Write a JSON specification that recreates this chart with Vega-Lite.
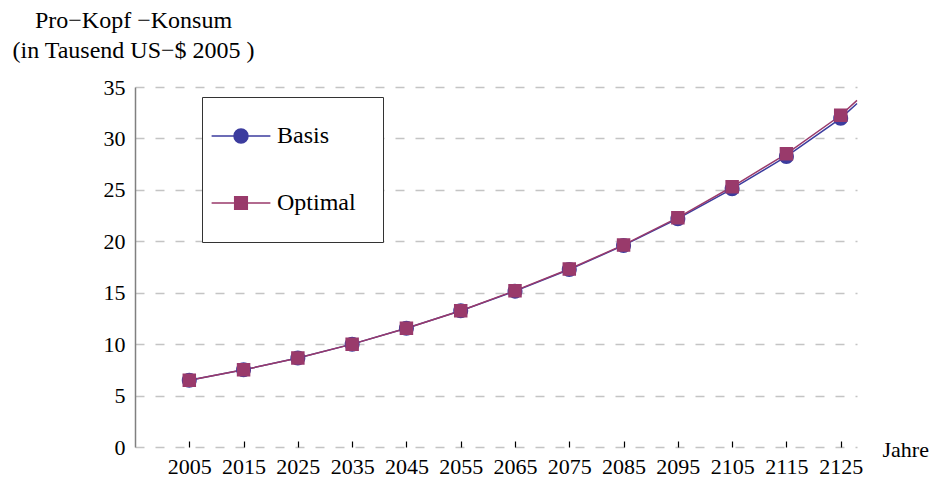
{
  "$schema": "https://vega.github.io/schema/vega-lite/v6.json",
  "width": 722,
  "height": 360,
  "autosize": {"type": "none"},
  "padding": {"left": 135, "top": 87, "right": 75, "bottom": 35},
  "background": "white",
  "config": {
    "view": {"stroke": null},
    "font": "Liberation Serif",
    "axis": {"labelFont": "Liberation Serif", "titleFont": "Liberation Serif", "labelColor": "#000", "titleColor": "#000", "labelFontSize": 22, "titleFontSize": 22, "titleFontWeight": "normal"},
    "legend": {"labelFont": "Liberation Serif", "labelFontSize": 24, "labelColor": "#000"}
  },
  "data": {
    "values": [
      {"year": 2005, "series": "Basis", "value": 6.5, "m": true},
      {"year": 2015, "series": "Basis", "value": 7.5, "m": true},
      {"year": 2025, "series": "Basis", "value": 8.65, "m": true},
      {"year": 2035, "series": "Basis", "value": 10.0, "m": true},
      {"year": 2045, "series": "Basis", "value": 11.55, "m": true},
      {"year": 2055, "series": "Basis", "value": 13.25, "m": true},
      {"year": 2065, "series": "Basis", "value": 15.15, "m": true},
      {"year": 2075, "series": "Basis", "value": 17.25, "m": true},
      {"year": 2085, "series": "Basis", "value": 19.6, "m": true},
      {"year": 2095, "series": "Basis", "value": 22.2, "m": true},
      {"year": 2105, "series": "Basis", "value": 25.1, "m": true},
      {"year": 2115, "series": "Basis", "value": 28.25, "m": true},
      {"year": 2125, "series": "Basis", "value": 31.95, "m": true},
      {"year": 2128, "series": "Basis", "value": 33.4, "m": false},
      {"year": 2005, "series": "Optimal", "value": 6.5, "m": true},
      {"year": 2015, "series": "Optimal", "value": 7.5, "m": true},
      {"year": 2025, "series": "Optimal", "value": 8.65, "m": true},
      {"year": 2035, "series": "Optimal", "value": 10.0, "m": true},
      {"year": 2045, "series": "Optimal", "value": 11.55, "m": true},
      {"year": 2055, "series": "Optimal", "value": 13.25, "m": true},
      {"year": 2065, "series": "Optimal", "value": 15.2, "m": true},
      {"year": 2075, "series": "Optimal", "value": 17.3, "m": true},
      {"year": 2085, "series": "Optimal", "value": 19.65, "m": true},
      {"year": 2095, "series": "Optimal", "value": 22.3, "m": true},
      {"year": 2105, "series": "Optimal", "value": 25.3, "m": true},
      {"year": 2115, "series": "Optimal", "value": 28.5, "m": true},
      {"year": 2125, "series": "Optimal", "value": 32.25, "m": true},
      {"year": 2128, "series": "Optimal", "value": 33.7, "m": false}
    ]
  },
  "encoding": {
    "x": {
      "field": "year", "type": "quantitative",
      "scale": {"domain": [1995, 2128], "nice": false, "zero": false},
      "axis": {
        "values": [2005, 2015, 2025, 2035, 2045, 2055, 2065, 2075, 2085, 2095, 2105, 2115, 2125],
        "format": "d", "grid": false, "domain": false,
        "ticks": true, "tickSize": -6, "tickColor": "#000", "tickWidth": 1.2,
        "labelPadding": 15, "labelFlush": false, "labelOverlap": false,
        "title": "Jahre", "titleX": 747, "titleY": 2, "titleAlign": "left", "titleBaseline": "middle", "titleAnchor": null
      }
    },
    "y": {
      "field": "value", "type": "quantitative",
      "scale": {"domain": [0, 35], "nice": false},
      "axis": {
        "values": [0, 5, 10, 15, 20, 25, 30, 35],
        "grid": true, "gridColor": "#c4c4c4", "gridDash": [9, 11], "gridWidth": 1.5,
        "domain": true, "domainColor": "#808080", "domainWidth": 1.5,
        "ticks": false, "labelPadding": 10,
        "title": ["Pro−Kopf −Konsum", "(in Tausend US−$ 2005 )"],
        "titleFontSize": 24,
        "titleAngle": 0, "titleX": -2, "titleY": -79, "titleAlign": "center", "titleBaseline": "top", "titleLineHeight": 30
      }
    }
  },
  "layer": [
    {
      "mark": {"type": "line", "strokeWidth": 1.5},
      "encoding": {
        "stroke": {
          "field": "series", "type": "nominal",
          "scale": {"domain": ["Basis", "Optimal"], "range": ["#3c3c9e", "#993a6b"]},
          "legend": {
            "title": null, "orient": "none", "legendX": 67, "legendY": 10,
            "padding": 27, "symbolOffset": 0, "labelOffset": 24, "rowPadding": 43,
            "symbolSize": 196, "symbolStrokeWidth": 1.5,
            "strokeColor": "#333", "fillColor": "white"
          }
        }
      }
    },
    {
      "transform": [{"filter": "datum.m"}],
      "mark": {"type": "point", "filled": true, "size": 225, "opacity": 1, "strokeWidth": 0},
      "encoding": {
        "stroke": {"field": "series", "type": "nominal"},
        "fill": {
          "field": "series", "type": "nominal",
          "scale": {"domain": ["Basis", "Optimal"], "range": ["#3c3c9e", "#993a6b"]},
          "legend": {
            "title": null, "orient": "none", "legendX": 67, "legendY": 10,
            "padding": 27, "symbolOffset": 0, "labelOffset": 24, "rowPadding": 43,
            "symbolSize": 196, "symbolStrokeWidth": 1.5,
            "strokeColor": "#333", "fillColor": "white"
          }
        },
        "shape": {
          "field": "series", "type": "nominal",
          "scale": {"domain": ["Basis", "Optimal"], "range": ["M-4.2,0H4.2M1,0A1,1 0 1 1 -1,0A1,1 0 1 1 1,0Z", "M-4.2,0H4.2M-0.9,-0.9H0.9V0.9H-0.9Z"]},
          "legend": {
            "title": null, "orient": "none", "legendX": 67, "legendY": 10,
            "padding": 27, "symbolOffset": 0, "labelOffset": 24, "rowPadding": 43,
            "symbolSize": 196, "symbolStrokeWidth": 1.5,
            "strokeColor": "#333", "fillColor": "white"
          }
        }
      }
    }
  ]
}
